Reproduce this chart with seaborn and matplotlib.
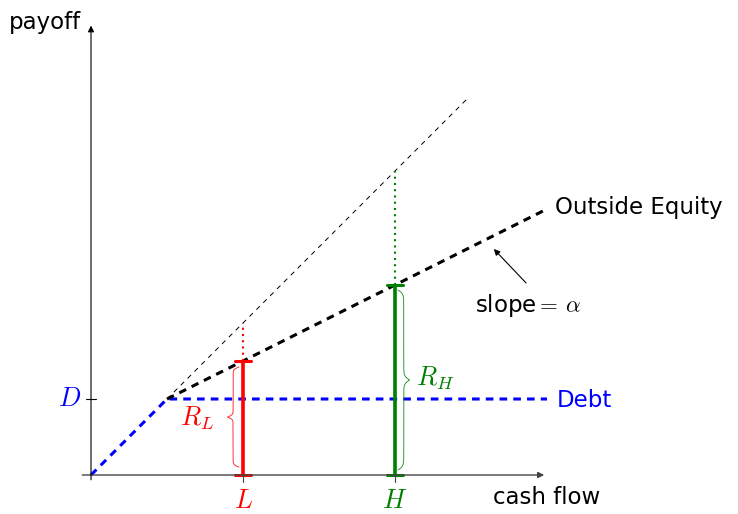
import numpy as np
import seaborn as sns
import matplotlib.pyplot as plt

sns.set_style("white")
plt.rcParams["font.family"] = ["DejaVu Sans"]
plt.rcParams["mathtext.fontset"] = "cm"
plt.rcParams["text.color"] = "black"

# payoff schedule (cash flow units)
debt_x = [0, 2, 12]
debt_y = [0, 2, 2]
equity_x = [2, 12]
equity_y = [2, 7]
diag_x = [2, 9.9]
diag_y = [2, 9.9]

# the two cash-flow states
state_names = ["L", "H"]
state_x = [4, 8]
state_payoff = [3, 5]
state_full = [4, 8]
state_colors = ["#ff0000", "#008000"]

D = 2


def brace(ax, x, y0, y1, w, color, n=400):
    # vertical curly brace, tip pointing to x + w
    half = np.linspace(0, 1, n // 2)
    beta = 45.0
    s = 1 / (1 + np.exp(-beta * (half - half[0]))) + 1 / (1 + np.exp(-beta * (half - half[-1])))
    s = (s - s.min()) / (s.max() - s.min())
    xs = np.concatenate([s, s[::-1]]) * w + x
    ys = np.concatenate([np.linspace(y0, (y0 + y1) / 2, n // 2),
                         np.linspace((y0 + y1) / 2, y1, n // 2)])
    ax.plot(xs, ys, color=color, lw=0.7, alpha=0.8)


fig = plt.figure(figsize=(7.38, 5.14), dpi=100)
ax = fig.add_axes([0, 0, 1, 1])
ax.set_xlim(-91 / 38, (738 - 91) / 38)
ax.set_ylim(-39 / 38, 475 / 38)
ax.axis("off")

# axes with arrows
ax.annotate("", xy=(12, 0), xytext=(-0.3, 0),
            arrowprops=dict(arrowstyle="-|>", color="#444444", lw=1.0, mutation_scale=9))
ax.annotate("", xy=(0, 11.9), xytext=(0, -0.2),
            arrowprops=dict(arrowstyle="-|>", color="black", lw=0.8, mutation_scale=9))
ax.text(-1.2, 11.9, "payoff", fontsize=16.5, ha="center", va="center")
ax.text(12, -0.6, "cash flow", fontsize=16.5, ha="center", va="center")

# 45 degree reference line
sns.lineplot(x=diag_x, y=diag_y, ax=ax, color="black", lw=0.7,
             linestyle=(0, (5, 5)), sort=False)

# debt and outside equity
sns.lineplot(x=debt_x, y=debt_y, ax=ax, color="#0000ff", lw=2.2,
             linestyle=(0, (2.5, 2)), sort=False)
sns.lineplot(x=equity_x, y=equity_y, ax=ax, color="black", lw=2.2,
             linestyle=(0, (2.5, 2)), sort=False)
ax.text(12.2, 7.05, "Outside Equity", fontsize=16.5, va="center", ha="left")
ax.text(12.25, 1.95, "Debt", fontsize=16.5, va="center", ha="left", color="#0000ff")

# D tick and label
ax.plot([-0.13, 0.13], [D, D], color="black", lw=0.8)
ax.text(-0.25, D, "$D$", fontsize=19, color="#0000ff", ha="right", va="center")

# states
for name, x, p, f, c in zip(state_names, state_x, state_payoff, state_full, state_colors):
    ax.plot([x, x], [0, p], color=c, lw=2.6, solid_capstyle="butt")
    for yy in (0, p):
        ax.plot([x - 0.2, x + 0.2], [yy, yy], color=c, lw=2.2)
    ax.plot([x, x], [p, f], color=c, lw=1.5, linestyle=(0, (1, 2)))
    ax.plot([x, x], [0, -0.18], color="#444444", lw=0.8)
    ax.text(x, -0.68, f"${name}$", fontsize=19, color=c, ha="center", va="center")

# braces
brace(ax, 3.89, 0.21, 2.84, -0.3, "#ff0000")
ax.text(2.8, 1.5, "$R_L$", fontsize=19, color="#ff0000", ha="center", va="center")
brace(ax, 8.08, 0.13, 4.87, 0.3, "#008000")
ax.text(9.05, 2.55, "$R_H$", fontsize=19, color="#008000", ha="center", va="center")

# slope annotation
ax.annotate("", xy=(10.55, 6.0), xytext=(11.5, 5.0),
            arrowprops=dict(arrowstyle="-|>", color="black", lw=0.8, mutation_scale=9))
ax.text(11.5, 4.45, r"slope$=\,\alpha$", fontsize=16.5, ha="center", va="center")

fig.savefig("out.png", dpi=100)
